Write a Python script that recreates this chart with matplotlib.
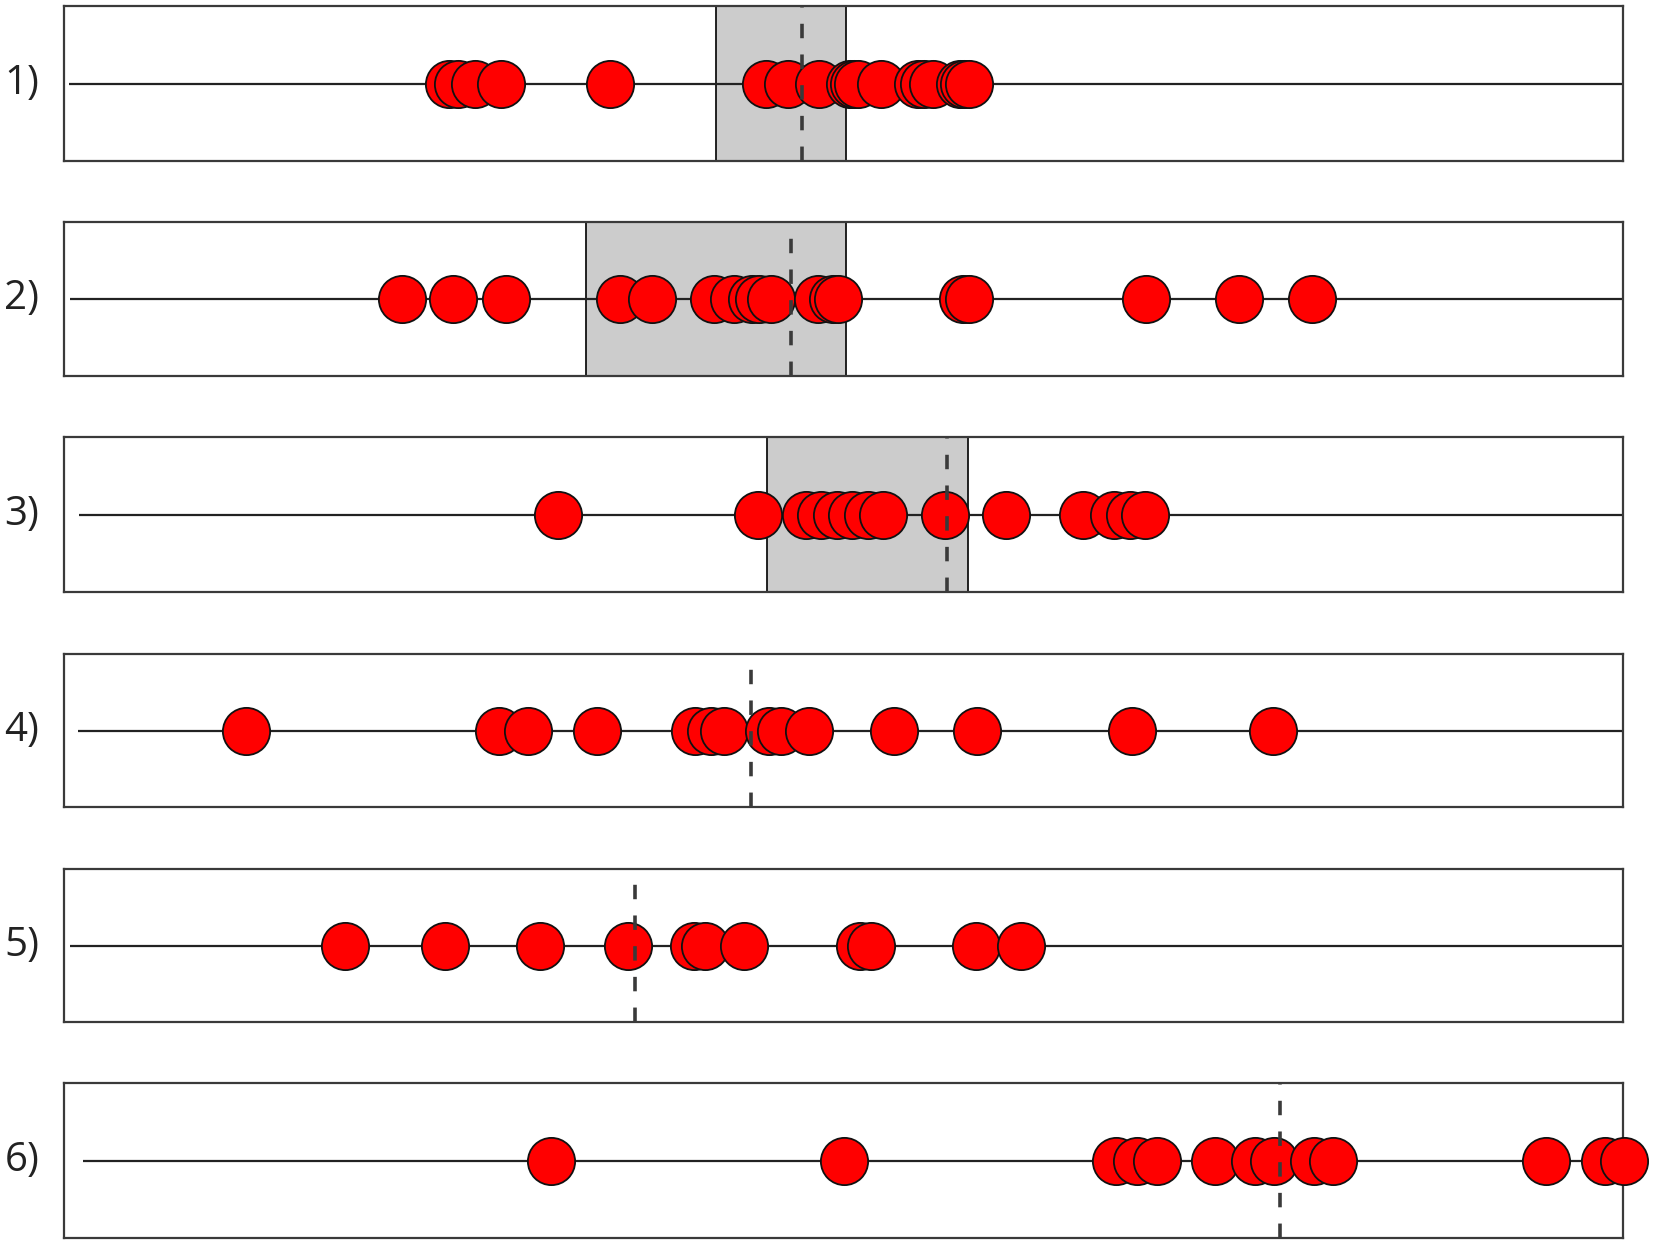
import matplotlib
matplotlib.use("Agg")
import matplotlib.pyplot as plt

# Data (horizontal positions on an arbitrary scale)
labels = ["1)", "2)", "3)", "4)", "5)", "6)"]
points_1 = [449, 458, 475, 501, 610, 766, 788, 819, 850, 854, 858, 881, 918, 924, 933, 960, 964, 969]
points_2 = [402, 453, 506, 620, 652, 714, 734, 752, 759, 771, 818, 833, 838, 963, 969, 1146, 1239, 1312]
points_3 = [558, 758, 806, 821, 837, 852, 868, 883, 945, 1006, 1083, 1114, 1130, 1145]
points_4 = [246, 499, 528, 597, 695, 711, 724, 769, 781, 809, 894, 977, 1132, 1273]
points_5 = [345, 445, 540, 628, 694, 705, 744, 860, 871, 976, 1021]
points_6 = [551, 844, 1116, 1137, 1157, 1215, 1255, 1274, 1314, 1333, 1546, 1605, 1624]
all_points = [points_1, points_2, points_3, points_4, points_5, points_6]

bands = [(716, 846), (586, 846), (767, 968), None, None, None]
medians = [802, 791, 947, 751, 635, 1280]
line_starts = [69, 70, 79, 78, 70, 83]

X_MIN, X_MAX = 64, 1623

W, H = 1656, 1247
fig = plt.figure(figsize=(W / 100, H / 100), dpi=100)
fig.patch.set_facecolor("white")

panel_tops = [6, 222, 437, 654, 869, 1083]
panel_bots = [161, 376, 592, 807, 1022, 1238]

for i in range(6):
    top, bot = panel_tops[i], panel_bots[i]
    ax = fig.add_axes([X_MIN / W, 1 - bot / H, (X_MAX - X_MIN) / W, (bot - top) / H])
    ax.set_xlim(X_MIN, X_MAX)
    ax.set_ylim(-1, 1)
    ax.set_xticks([])
    ax.set_yticks([])
    for s in ax.spines.values():
        s.set_color("#3a3a3a")
        s.set_linewidth(1.6)

    if bands[i] is not None:
        lo, hi = bands[i]
        ax.axvspan(lo, hi, facecolor="#cccccc", edgecolor="none", zorder=1)
        ax.axvline(lo, color="#111111", lw=1.3, zorder=1.5)
        ax.axvline(hi, color="#111111", lw=1.3, zorder=1.5)

    ax.plot([line_starts[i], X_MAX], [0, 0], color="#222222", lw=1.6, zorder=2,
            solid_capstyle="butt")

    for k, xv in enumerate(all_points[i]):
        ax.plot([xv], [0], marker="o", ms=34, mfc="#ff0000", mec="#111111",
                mew=1.3, linestyle="none", zorder=3 + k * 0.01, clip_on=False)

    ax.axvline(medians[i], color="#3a3a3a", lw=2.6, linestyle=(0, (4, 4.5)),
               zorder=5)

    fig.text(22 / W, 1 - ((top + bot) / 2) / H, labels[i], fontsize=29,
             family="Open Sans", ha="center", va="center", color="#222222")

fig.savefig("out.png", dpi=100, facecolor="white")
